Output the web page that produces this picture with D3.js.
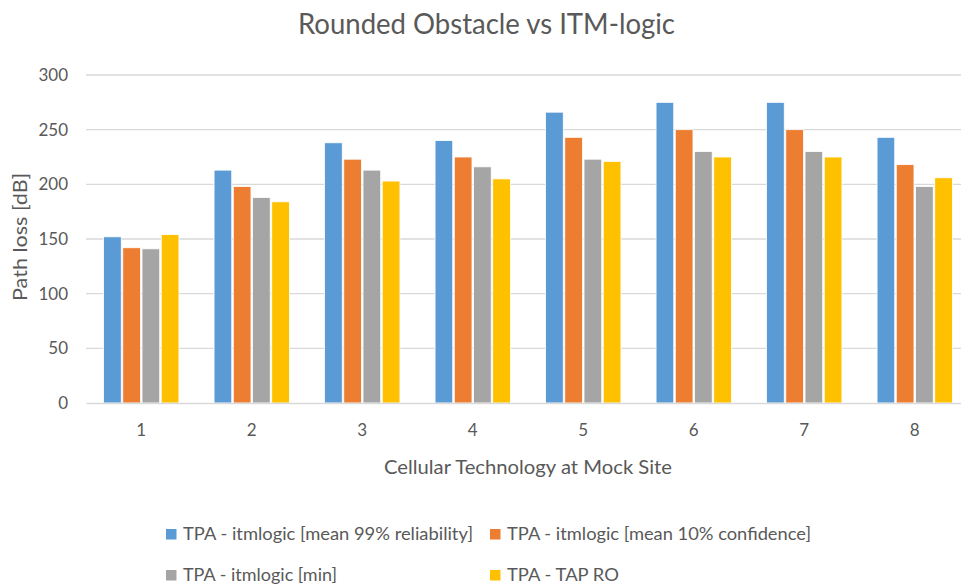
<!DOCTYPE html>
<html>
<head>
<meta charset="utf-8">
<script src="https://cdn.jsdelivr.net/npm/d3@7"></script>
<style>
  html, body { margin: 0; padding: 0; background: #fff; }
  svg { display: block; font-family: Lato, "Open Sans", sans-serif; }
</style>
</head>
<body>
<svg id="chart" width="961" height="584"></svg>
<script>
const categories = ["1", "2", "3", "4", "5", "6", "7", "8"];
const seriesNames = [
  "TPA - itmlogic [mean 99% reliability]",
  "TPA - itmlogic [mean 10% confidence]",
  "TPA - itmlogic [min]",
  "TPA - TAP RO"
];
const seriesColors = ["#5b9bd5", "#ed7d31", "#a5a5a5", "#ffc000"];
const mean99 = [152, 213, 238, 240, 266, 275, 275, 243];
const mean10 = [142, 198, 223, 225, 243, 250, 250, 218];
const minVals = [141, 188, 213, 216, 223, 230, 230, 198];
const tapRO = [154, 184, 203, 205, 221, 225, 225, 206];
const yTicks = [0, 50, 100, 150, 200, 250, 300];

const seriesValues = [mean99, mean10, minVals, tapRO];

const svg = d3.select("#chart");
const margin = { left: 86, right: 970, top: 75, bottom: 403 };

const x0 = d3.scaleBand().domain(categories).range([margin.left, margin.right]).paddingInner(0.29).paddingOuter(0.145);
const x1 = d3.scaleBand().domain(d3.range(seriesNames.length)).range([0, x0.bandwidth()]).padding(0.08);
const y = d3.scaleLinear().domain([0, 300]).range([margin.bottom, margin.top]);

// gridlines
svg.append("g").selectAll("line").data(yTicks.filter(d => d > 0)).join("line")
  .attr("x1", margin.left).attr("x2", margin.right)
  .attr("y1", d => y(d)).attr("y2", d => y(d))
  .attr("stroke", "#d9d9d9").attr("stroke-width", 1.3);

// y axis labels
const yAxis = d3.axisLeft(y).tickValues(yTicks).tickSize(0).tickPadding(0);
const gy = svg.append("g").attr("transform", `translate(68,0)`).call(yAxis);
gy.select(".domain").remove();
gy.selectAll("text").attr("fill", "#595959").style("font-size", "17px").style("font-family", "Lato, sans-serif");

// bars
const groups = svg.append("g").selectAll("g").data(categories).join("g")
  .attr("transform", d => `translate(${x0(d)},0)`);
groups.selectAll("rect").data((d, i) => seriesValues.map((s, k) => ({ k, v: s[i] }))).join("rect")
  .attr("x", d => x1(d.k))
  .attr("width", x1.bandwidth())
  .attr("y", d => y(d.v))
  .attr("height", d => y(0) - y(d.v))
  .attr("fill", d => seriesColors[d.k])
  .attr("stroke", "#ffffff").attr("stroke-width", 0.8);

// x axis
const xAxis = d3.axisBottom(x0).tickSize(0).tickPadding(0);
const gx = svg.append("g").attr("transform", `translate(0,${margin.bottom})`).call(xAxis);
gx.select(".domain").attr("stroke", "#d9d9d9").attr("stroke-width", 1.3);
gx.selectAll("text").attr("fill", "#595959").attr("dy", "1.95em").style("font-size", "17px").style("font-family", "Lato, sans-serif");

// title
svg.append("text").attr("x", 486.5).attr("y", 34).attr("text-anchor", "middle")
  .attr("fill", "#595959").style("font-size", "28px")
  .attr("textLength", 377).attr("lengthAdjust", "spacingAndGlyphs")
  .text("Rounded Obstacle vs ITM-logic");

// axis titles
svg.append("text").attr("x", 528).attr("y", 474).attr("text-anchor", "middle")
  .attr("fill", "#595959").style("font-size", "20px")
  .attr("textLength", 288).attr("lengthAdjust", "spacingAndGlyphs")
  .text("Cellular Technology at Mock Site");
svg.append("text").attr("transform", "translate(27,237) rotate(-90)").attr("text-anchor", "middle")
  .attr("fill", "#595959").style("font-size", "20px")
  .attr("textLength", 128).attr("lengthAdjust", "spacingAndGlyphs")
  .text("Path loss [dB]");

// legend
const legendPos = [[166, 529], [490, 529], [166, 570], [490, 570]];
const legendLen = [290, 304, 154, 112];
const leg = svg.append("g").selectAll("g").data(seriesNames).join("g")
  .attr("transform", (d, i) => `translate(${legendPos[i][0]},${legendPos[i][1]})`);
leg.append("rect").attr("width", 10.5).attr("height", 10.5).attr("fill", (d, i) => seriesColors[i]);
leg.append("text").attr("x", 17).attr("y", 10.5).attr("fill", "#595959").style("font-size", "18px")
  .attr("textLength", (d, i) => legendLen[i]).attr("lengthAdjust", "spacingAndGlyphs")
  .text(d => d);
</script>
</body>
</html>
